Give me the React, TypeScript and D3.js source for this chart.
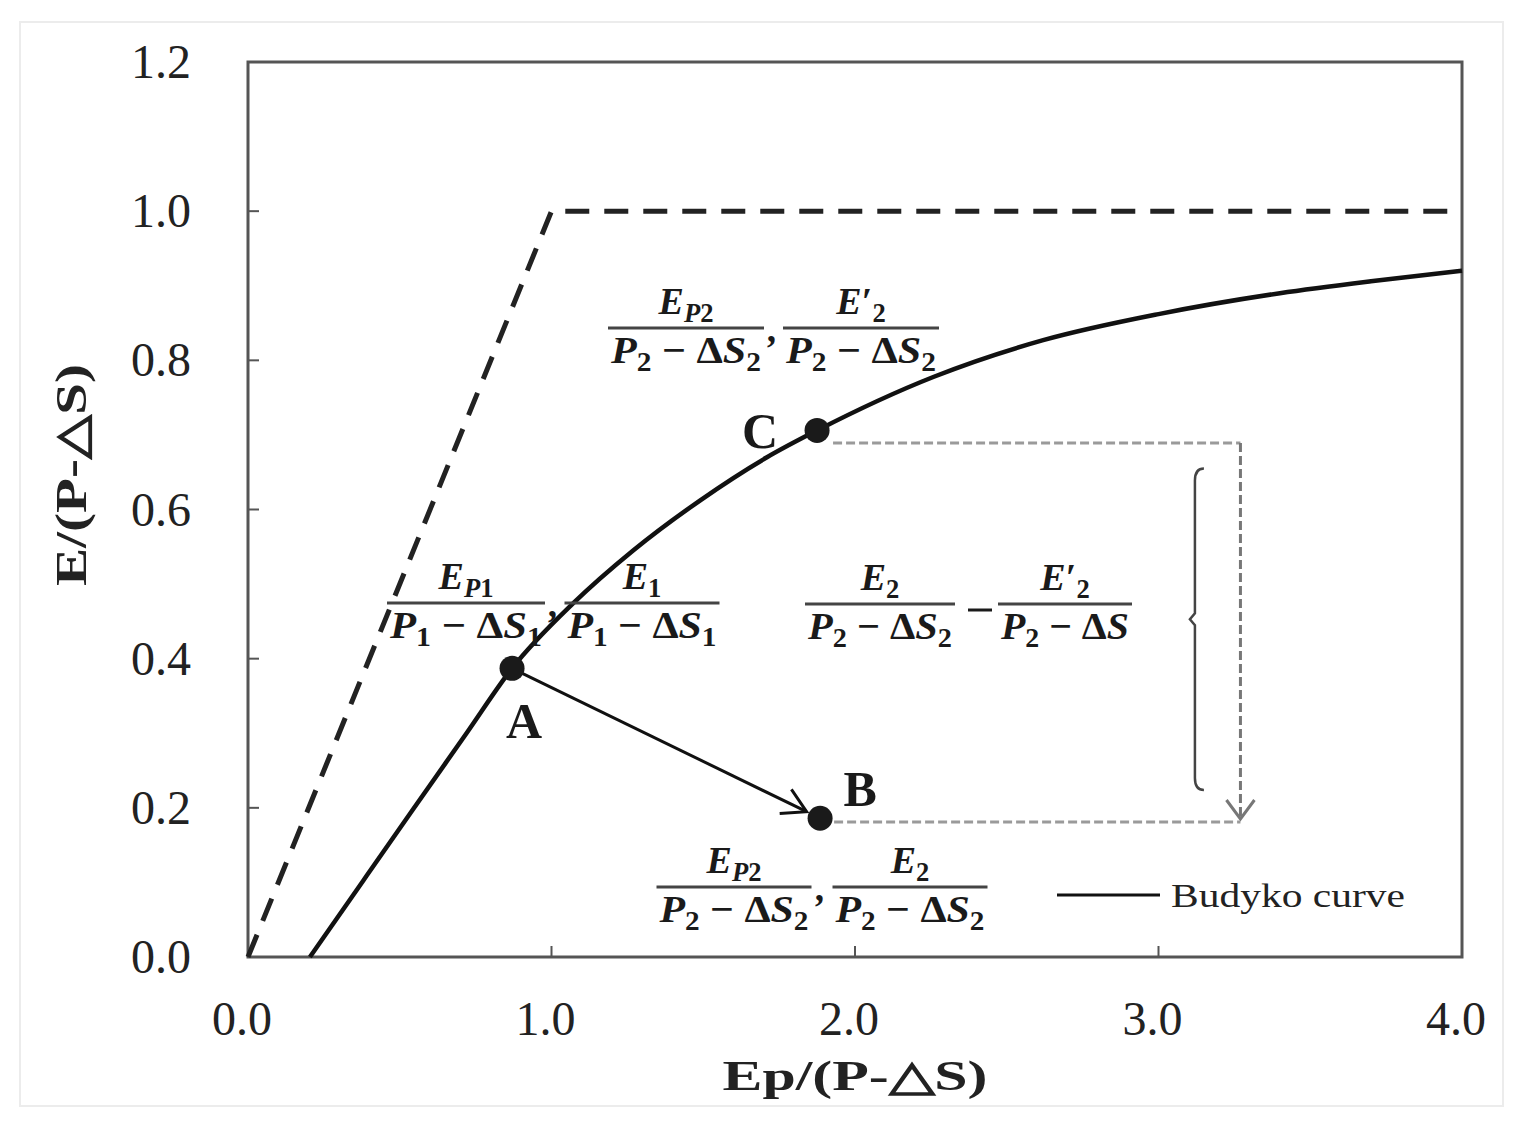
import * as d3 from "d3";

// axis ticks
const xTicks = [0, 1, 2, 3, 4];
const xTickLabels = ["0.0", "1.0", "2.0", "3.0", "4.0"];
const yTicks = [0, 0.2, 0.4, 0.6, 0.8, 1.0, 1.2];
const yTickLabels = ["0.0", "0.2", "0.4", "0.6", "0.8", "1.0", "1.2"];

// Budyko curve
const curveX = [0.204, 0.379, 0.544, 0.72, 0.87, 1.071, 1.269, 1.489, 1.71, 1.875, 2.26, 2.62, 3.0, 3.4, 3.7, 4.0];
const curveY = [0, 0.102, 0.198, 0.3, 0.387, 0.474, 0.545, 0.612, 0.67, 0.706, 0.778, 0.827, 0.862, 0.89, 0.906, 0.92];

// energy / water limits (dashed)
const limitX = [0, 1, 4];
const limitY = [0, 1, 1];

// points A, B, C
const pointNames = ["A", "B", "C"];
const pointX = [0.87, 1.885, 1.875];
const pointY = [0.387, 0.186, 0.706];

// grey shift guide
const guideTopY = 0.689;
const guideBottomY = 0.181;
const guideRightX = 3.27;
const bracketX = 3.12;
const bracketTop = 0.655;
const bracketBottom = 0.224;

const W = 1523;
const H = 1133;
const margin = { left: 248, right: 1462, top: 62, bottom: 957 };

const serif = "'Liberation Serif', 'Times New Roman', serif";

type Seg = [string, string]; // [text, kind] kind: i italic, r roman, s subscript, si subscript italic, p prime

const mathSpans = (segs: Seg[], fs: number) => {
  let shift = 0;
  return segs.map(([t, k], i) => {
    const sub = k === "s" || k === "si";
    const target = sub ? fs * 0.22 : 0;
    const dy = target - shift;
    shift = target;
    return (
      <tspan
        key={i}
        dy={dy}
        fontSize={sub ? fs * 0.7 : fs}
        fontStyle={k === "i" || k === "si" ? "italic" : "normal"}
      >
        {t}
      </tspan>
    );
  });
};

const EP1: Seg[] = [["E", "i"], ["P", "si"], ["1", "s"]];
const EP2: Seg[] = [["E", "i"], ["P", "si"], ["2", "s"]];
const E1: Seg[] = [["E", "i"], ["1", "s"]];
const E2: Seg[] = [["E", "i"], ["2", "s"]];
const E2p: Seg[] = [["E", "i"], ["\u2032", "p"], ["2", "s"]];
const D1: Seg[] = [["P", "i"], ["1", "s"], [" \u2212 \u0394", "r"], ["S", "i"], ["1", "s"]];
const D2: Seg[] = [["P", "i"], ["2", "s"], [" \u2212 \u0394", "r"], ["S", "i"], ["2", "s"]];
const D2n: Seg[] = [["P", "i"], ["2", "s"], [" \u2212 \u0394", "r"], ["S", "i"]];

const Frac = ({ cx, y, w, num, den, fs = 38 }: { cx: number; y: number; w: number; num: Seg[]; den: Seg[]; fs?: number }) => (
  <g fontFamily={serif} fontWeight="bold" fill="#1a1a1a">
    <line x1={cx - w / 2} x2={cx + w / 2} y1={y} y2={y} stroke="#444" strokeWidth={3} />
    <text x={cx} y={y - 14} textAnchor="middle">
      {mathSpans(num, fs)}
    </text>
    <text x={cx} y={y + fs * 0.92} textAnchor="middle" textLength={w - 6} lengthAdjust="spacingAndGlyphs">
      {mathSpans(den, fs)}
    </text>
  </g>
);

const Comma = ({ x, y }: { x: number; y: number }) => (
  <text x={x} y={y + 14} fontFamily={serif} fontWeight="bold" fontStyle="italic" fontSize={38} fill="#1a1a1a" textAnchor="middle">
    ,
  </text>
);

export default function App() {
  const x = d3.scaleLinear().domain([0, 4]).range([margin.left, margin.right]);
  const y = d3.scaleLinear().domain([0, 1.2]).range([margin.bottom, margin.top]);

  const curve = d3
    .line<number>()
    .x((d) => x(d))
    .y((_, i) => y(curveY[i]))
    .curve(d3.curveMonotoneX)(curveX) as string;

  const limit = d3
    .line<number>()
    .x((d) => x(d))
    .y((_, i) => y(limitY[i]))(limitX) as string;

  // arrow A -> B
  const ax = x(pointX[0]), ay = y(pointY[0]);
  const bx = x(pointX[1]), by = y(pointY[1]);
  const ang = Math.atan2(by - ay, bx - ax);
  const tipX = bx - Math.cos(ang) * 15;
  const tipY = by - Math.sin(ang) * 15;
  const head = (a: number) => [tipX - Math.cos(ang + a) * 27, tipY - Math.sin(ang + a) * 27];
  const h1 = head(0.52), h2 = head(-0.52);

  const gx = x(guideRightX);
  const gTop = y(guideTopY);
  const gBot = y(guideBottomY);
  const brX = x(bracketX);
  const brT = y(bracketTop);
  const brB = y(bracketBottom);
  const brM = (brT + brB) / 2 - 10;

  return (
    <svg width={W} height={H} style={{ position: "absolute", left: 0, top: 0, background: "#fff" }}>
      <rect x={20} y={22} width={1483} height={1084} fill="none" stroke="#ececec" strokeWidth={2} />

      {/* frame */}
      <rect
        x={margin.left}
        y={margin.top}
        width={margin.right - margin.left}
        height={margin.bottom - margin.top}
        fill="none"
        stroke="#555"
        strokeWidth={3}
      />

      {/* ticks, pointing inward */}
      {xTicks.map((t, i) => (
        <g key={"xt" + i}>
          <line x1={x(t)} x2={x(t)} y1={margin.bottom} y2={margin.bottom - 11} stroke="#555" strokeWidth={2} />
          <text x={x(t) - 6} y={1035} textAnchor="middle" fontFamily={serif} fontSize={48} fill="#222">
            {xTickLabels[i]}
          </text>
        </g>
      ))}
      {yTicks.map((t, i) => (
        <g key={"yt" + i}>
          <line x1={margin.left} x2={margin.left + 11} y1={y(t)} y2={y(t)} stroke="#555" strokeWidth={2} />
          <text x={191} y={y(t) + 16} textAnchor="end" fontFamily={serif} fontSize={48} fill="#222">
            {yTickLabels[i]}
          </text>
        </g>
      ))}

      {/* axis titles */}
      <text
        x={855}
        y={1090}
        textAnchor="middle"
        fontFamily={serif}
        fontWeight="bold"
        fontSize={42}
        fill="#222"
        textLength={265}
        lengthAdjust="spacingAndGlyphs"
      >
        Ep/(P-{"\u25B3"}S)
      </text>
      <text
        transform="translate(86,475) rotate(-90)"
        textAnchor="middle"
        fontFamily={serif}
        fontWeight="bold"
        fontSize={44}
        fill="#222"
        textLength={222}
        lengthAdjust="spacingAndGlyphs"
      >
        E/(P-{"\u25B3"}S)
      </text>

      {/* limits */}
      <path d={limit} fill="none" stroke="#222" strokeWidth={5} strokeDasharray="24 15" />

      {/* Budyko curve */}
      <path d={curve} fill="none" stroke="#111" strokeWidth={4.5} />

      {/* grey guide */}
      <g stroke="#9a9a9a" strokeWidth={3} fill="none">
        <line x1={x(pointX[2]) + 16} x2={gx} y1={gTop} y2={gTop} strokeDasharray="9 4" />
        <line x1={bx + 14} x2={gx} y1={gBot} y2={gBot} strokeDasharray="9 4" />
        <line x1={gx} x2={gx} y1={gTop} y2={gBot - 3} strokeDasharray="9 4" stroke="#777" />
        <polyline points={`${gx - 14},${gBot - 22} ${gx},${gBot - 3} ${gx + 14},${gBot - 22}`} stroke="#777" strokeWidth={3} />
      </g>

      {/* bracket */}
      <path
        d={`M${brX + 9},${brT} Q${brX},${brT} ${brX},${brT + 12} L${brX},${brM - 6} L${brX - 5},${brM} L${brX},${brM + 6} L${brX},${brB - 12} Q${brX},${brB} ${brX + 9},${brB}`}
        fill="none"
        stroke="#444"
        strokeWidth={2.5}
      />

      {/* arrow A -> B */}
      <g stroke="#111" strokeWidth={3} fill="none">
        <line x1={ax} y1={ay} x2={tipX} y2={tipY} />
        <polyline points={`${h1[0]},${h1[1]} ${tipX},${tipY} ${h2[0]},${h2[1]}`} />
      </g>

      {/* points */}
      {pointNames.map((n, i) => (
        <circle key={n} cx={x(pointX[i])} cy={y(pointY[i])} r={12.5} fill="#1a1a1a" />
      ))}
      <g fontFamily={serif} fontWeight="bold" fontSize={50} fill="#1a1a1a" textAnchor="middle">
        <text x={x(pointX[0]) + 12} y={y(pointY[0]) + 70}>{pointNames[0]}</text>
        <text x={x(pointX[1]) + 40} y={y(pointY[1]) - 12}>{pointNames[1]}</text>
        <text x={x(pointX[2]) - 57} y={y(pointY[2]) + 18}>{pointNames[2]}</text>
      </g>

      {/* fraction annotations */}
      <Frac cx={466} y={603} w={158} num={EP1} den={D1} />
      <Comma x={554} y={603} />
      <Frac cx={642} y={603} w={155} num={E1} den={D1} />

      <Frac cx={686} y={328} w={156} num={EP2} den={D2} />
      <Comma x={773} y={328} />
      <Frac cx={861} y={328} w={156} num={E2p} den={D2} />

      <Frac cx={880} y={604} w={150} num={E2} den={D2} />
      <line x1={968} x2={992} y1={610} y2={610} stroke="#1a1a1a" strokeWidth={3} />
      <Frac cx={1065} y={604} w={134} num={E2p} den={D2n} />

      <Frac cx={734} y={887} w={155} num={EP2} den={D2} />
      <Comma x={821} y={887} />
      <Frac cx={910} y={887} w={155} num={E2} den={D2} />

      {/* legend */}
      <line x1={1057} x2={1160} y1={895} y2={895} stroke="#111" strokeWidth={3} />
      <text x={1171} y={907} fontFamily={serif} fontSize={34} fill="#222" textLength={234} lengthAdjust="spacingAndGlyphs">
        Budyko curve
      </text>
    </svg>
  );
}
